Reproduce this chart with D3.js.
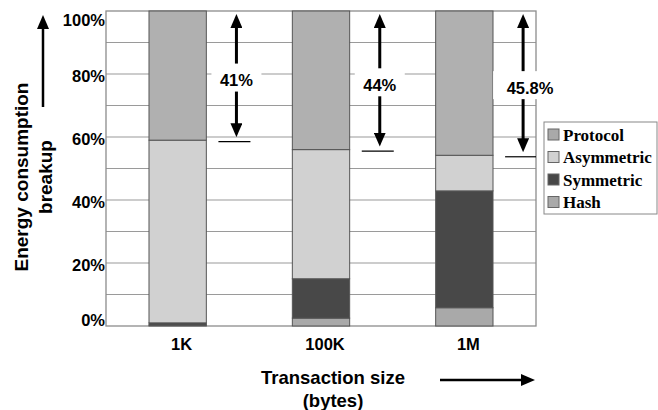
<!DOCTYPE html>
<html>
<head>
<meta charset="utf-8">
<script src="https://cdn.jsdelivr.net/npm/d3@7"></script>
<style>
  body { margin: 0; background: #fff; }
  svg { display: block; font-family: "Liberation Sans", Arial, sans-serif; }
</style>
</head>
<body>
<div id="chart"></div>
<script>
//Datos
const categories = ['1K', '100K', '1M'];
const seriesNames = ['Hash', 'Symmetric', 'Asymmetric', 'Protocol'];
const hashValues = [0.3, 2.5, 5.8];
const symmetricValues = [0.7, 12.5, 37.1];
const asymmetricValues = [58, 41, 11.3];
const protocolValues = [41, 44, 45.8];
const protocolLabels = ['41%', '44%', '45.8%'];
const yTicks = [0, 20, 40, 60, 80, 100];
const legendOrder = ['Protocol', 'Asymmetric', 'Symmetric', 'Hash'];

//Colores fijos
const COLORS = {
    Hash: '#a9a9a9',
    Symmetric: '#484848',
    Asymmetric: '#d1d1d1',
    Protocol: '#b0b0b0'
};

let data = categories.map(function(c, i) {
    return { cat: c, Hash: hashValues[i], Symmetric: symmetricValues[i], Asymmetric: asymmetricValues[i], Protocol: protocolValues[i] };
});

let margin = {top: 11, right: 122, bottom: 84, left: 106},
    W = 658, H = 410,
    width = W - margin.left - margin.right,
    height = H - margin.top - margin.bottom;

let root = d3.select('#chart').append('svg')
    .attr('width', W)
    .attr('height', H);

//Punta de flecha
let defs = root.append('defs');
defs.append('marker')
    .attr('id', 'head')
    .attr('viewBox', '0 0 14 12')
    .attr('refX', 2).attr('refY', 6)
    .attr('markerWidth', 14).attr('markerHeight', 12)
    .attr('markerUnits', 'userSpaceOnUse')
    .attr('orient', 'auto-start-reverse')
    .append('path').attr('d', 'M0,0 L14,6 L0,12 Z').attr('fill', '#000');

let svg = root.append('g')
    .attr('transform', 'translate(' + margin.left + ',' + margin.top + ')');

let x = d3.scaleBand().domain(categories).range([0, width]).padding(0);
let y = d3.scaleLinear().domain([0, 100]).range([height, 0]);
let barW = x.bandwidth() * 0.4;

//Rejilla
svg.append('g')
    .selectAll('line')
    .data(d3.range(10, 100, 10))
    .enter().append('line')
    .attr('x1', 0).attr('x2', width)
    .attr('y1', function(d) { return y(d); })
    .attr('y2', function(d) { return y(d); })
    .attr('stroke', '#9a9a9a').attr('stroke-width', 1.2);

svg.append('rect')
    .attr('width', width).attr('height', height)
    .attr('fill', 'none').attr('stroke', '#8c8c8c').attr('stroke-width', 1.3);

//Barras apiladas
let stacked = d3.stack().keys(seriesNames)(data);

svg.append('g')
    .selectAll('g')
    .data(stacked)
    .enter().append('g')
    .attr('fill', function(d) { return COLORS[d.key]; })
    .selectAll('rect')
    .data(function(d) { return d; })
    .enter().append('rect')
    .attr('x', function(d) { return x(d.data.cat) + (x.bandwidth() - barW) / 2; })
    .attr('y', function(d) { return y(d[1]); })
    .attr('width', barW)
    .attr('height', function(d) { return y(d[0]) - y(d[1]); })
    .attr('stroke', '#555').attr('stroke-width', 1);

//Flechas de protocolo
let ann = svg.append('g').selectAll('g')
    .data(data)
    .enter().append('g');

function arrowX(d) { return x(d.cat) + x.bandwidth() / 2 + x.bandwidth() * 0.41; }

ann.append('line')
    .attr('x1', function(d) { return arrowX(d) - 18; })
    .attr('x2', function(d) { return Math.min(arrowX(d) + 14, width); })
    .attr('y1', function(d) { return y(100 - d.Protocol) + 1.5; })
    .attr('y2', function(d) { return y(100 - d.Protocol) + 1.5; })
    .attr('stroke', '#000').attr('stroke-width', 1.2);

ann.append('line')
    .attr('x1', arrowX).attr('x2', arrowX)
    .attr('y1', y(100) + 15)
    .attr('y2', function(d) { return y(100 - d.Protocol) - 15; })
    .attr('stroke', '#000').attr('stroke-width', 3)
    .attr('marker-start', 'url(#head)')
    .attr('marker-end', 'url(#head)');

function labelY(d) { return (y(100) + y(100 - d.Protocol)) / 2 + 5; }

ann.append('rect')
    .attr('x', function(d, i) { return arrowX(d) - (i == 2 ? 30 : 25); })
    .attr('y', function(d) { return labelY(d) - 17; })
    .attr('width', function(d, i) { return i == 2 ? 60 : 50; })
    .attr('height', 28)
    .attr('fill', '#fff');

ann.append('text')
    .attr('x', function(d, i) { return arrowX(d) + (i == 2 ? 7 : 0); })
    .attr('y', labelY)
    .attr('dy', '0.35em')
    .attr('text-anchor', 'middle')
    .attr('font-size', 16.5).attr('font-weight', 'bold')
    .text(function(d, i) { return protocolLabels[i]; });

//Ejes
let yAxis = svg.append('g')
    .call(d3.axisLeft(y).tickValues(yTicks).tickSize(0).tickPadding(1).tickFormat(function(d) { return d + '%'; }));
yAxis.select('.domain').remove();
yAxis.selectAll('text')
    .attr('font-size', 16.5).attr('font-weight', 'bold').attr('fill', '#000')
    .attr('font-family', '"Liberation Sans", Arial, sans-serif')
    .attr('y', function(d) { return d == 100 ? 9 : (d == 0 ? -6 : 2); });

let xAxis = svg.append('g')
    .attr('transform', 'translate(0,' + height + ')')
    .call(d3.axisBottom(x).tickSize(0).tickPadding(12));
xAxis.select('.domain').remove();
xAxis.selectAll('text')
    .attr('font-size', 16.5).attr('font-weight', 'bold').attr('fill', '#000')
    .attr('font-family', '"Liberation Sans", Arial, sans-serif')
    .attr('x', 4);

//Títulos
root.append('text')
    .attr('x', 333).attr('y', 384)
    .attr('text-anchor', 'middle')
    .attr('font-size', 18.5).attr('font-weight', 'bold')
    .text('Transaction size');
root.append('text')
    .attr('x', 333).attr('y', 407)
    .attr('text-anchor', 'middle')
    .attr('font-size', 18.5).attr('font-weight', 'bold')
    .text('(bytes)');

root.append('line')
    .attr('x1', 440).attr('x2', 523).attr('y1', 380).attr('y2', 380)
    .attr('stroke', '#000').attr('stroke-width', 2.5)
    .attr('marker-end', 'url(#head)');

let yTitle = root.append('g').attr('transform', 'translate(0,177) rotate(-90)');
yTitle.append('text')
    .attr('x', 0).attr('y', 28)
    .attr('text-anchor', 'middle')
    .attr('font-size', 19).attr('font-weight', 'bold')
    .text('Energy consumption');
yTitle.append('text')
    .attr('x', 0).attr('y', 52)
    .attr('text-anchor', 'middle')
    .attr('font-size', 19).attr('font-weight', 'bold')
    .text('breakup');

root.append('line')
    .attr('x1', 43).attr('x2', 43).attr('y1', 107).attr('y2', 27)
    .attr('stroke', '#000').attr('stroke-width', 2.5)
    .attr('marker-end', 'url(#head)');

//Leyenda
let legend = root.append('g').attr('transform', 'translate(544,122)');
legend.append('rect')
    .attr('width', 113).attr('height', 92)
    .attr('fill', '#fff').attr('stroke', '#888').attr('stroke-width', 1);

let items = legend.selectAll('g.item')
    .data(legendOrder)
    .enter().append('g')
    .attr('class', 'item')
    .attr('transform', function(d, i) { return 'translate(0,' + (13 + i * 22.5) + ')'; });

items.append('rect')
    .attr('x', 4).attr('y', -6)
    .attr('width', 11).attr('height', 11)
    .attr('fill', function(d) { return d == 'Protocol' ? COLORS.Hash : COLORS[d]; })
    .attr('stroke', '#666').attr('stroke-width', 1);

items.append('text')
    .attr('x', 19).attr('y', 0)
    .attr('dy', '0.35em')
    .attr('font-family', '"Liberation Serif", "Times New Roman", serif')
    .attr('font-size', 17).attr('font-weight', 'bold')
    .text(function(d) { return d; });
</script>
</body>
</html>
